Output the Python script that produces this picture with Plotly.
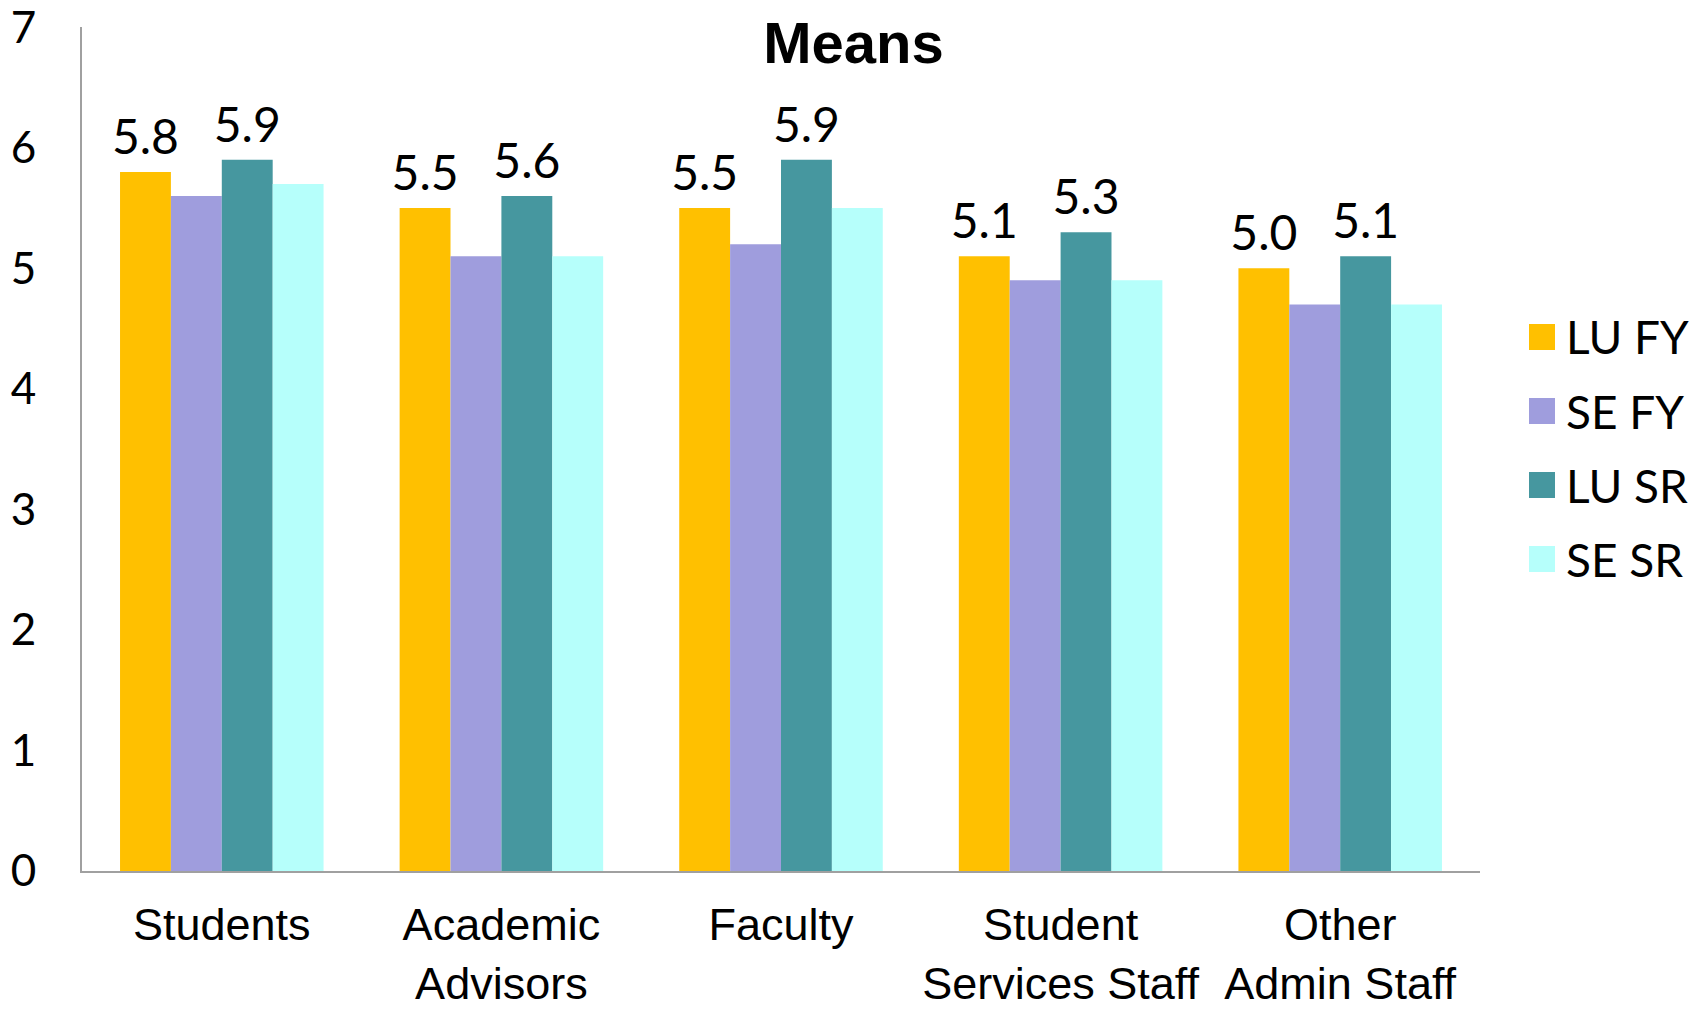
import plotly.graph_objects as go

categories = ["Students", "Academic<br>Advisors", "Faculty", "Student<br>Services Staff", "Other<br>Admin Staff"]
series_names = ["LU FY", "SE FY", "LU SR", "SE SR"]
lu_fy = [5.8, 5.5, 5.5, 5.1, 5.0]
se_fy = [5.6, 5.1, 5.2, 4.9, 4.7]
lu_sr = [5.9, 5.6, 5.9, 5.3, 5.1]
se_sr = [5.7, 5.1, 5.5, 4.9, 4.7]
series_values = [lu_fy, se_fy, lu_sr, se_sr]
show_labels = [True, False, True, False]
colors = ["#FFC000", "#9F9DDD", "#46979F", "#B6FFFB"]
y_ticks = [0, 1, 2, 3, 4, 5, 6, 7]

LABEL_FONT = "Lato, 'Open Sans', sans-serif"
CAT_FONT = "'Liberation Sans', Arial, sans-serif"

W, H = 1707, 1013
ML, MR, MT, MB = 82, 227, 27, 142
PW, PH = W - ML - MR, H - MT - MB
GAP = 0.272

fig = go.Figure()
for i, (name, vals, col) in enumerate(zip(series_names, series_values, colors)):
    fig.add_trace(go.Bar(
        x=categories, y=vals, name=name, offsetgroup=str(i),
        marker=dict(color=col, line=dict(width=0)),
        showlegend=False,
    ))
# value labels, grouped the same way as the bars
for i, (name, vals, lab) in enumerate(zip(series_names, series_values, show_labels)):
    fig.add_trace(go.Scatter(
        x=categories, y=vals, name=name + " labels", offsetgroup=str(i),
        mode="markers+text",
        marker=dict(size=8, opacity=0),
        text=[f"{v:.1f}" for v in vals] if lab else ["" for v in vals],
        textposition="top center",
        textfont=dict(family=LABEL_FONT, size=48, color="black"),
        cliponaxis=False, hoverinfo="skip", showlegend=False,
    ))

# manual legend (larger squares like the reference)
leg_y = [337, 411, 485, 559]
for name, col, yy in zip(series_names, colors, leg_y):
    fig.add_shape(type="rect", xref="paper", yref="paper",
                  x0=(1529 - ML) / PW, x1=(1555 - ML) / PW,
                  y0=(H - yy - 13 - MB) / PH, y1=(H - yy + 13 - MB) / PH,
                  fillcolor=col, line=dict(width=0))
    fig.add_annotation(xref="paper", yref="paper",
                       x=(1564 - ML) / PW, y=(H - yy - MB) / PH,
                       text=name, showarrow=False, xanchor="left", yanchor="middle",
                       font=dict(family=LABEL_FONT, size=46, color="black"))

fig.update_layout(
    width=W, height=H,
    margin=dict(l=ML, r=MR, t=MT, b=MB, autoexpand=False),
    barmode="group", bargap=GAP, bargroupgap=0,
    scattermode="group", scattergap=GAP,
    plot_bgcolor="white", paper_bgcolor="white",
    title=dict(text="<b>Means</b>", x=0.5, xref="container", xanchor="center",
               y=1 - 43 / H, yanchor="middle",
               font=dict(family=CAT_FONT, size=58, color="black")),
    showlegend=False,
)
fig.update_yaxes(range=[0, 7.002], tickvals=y_ticks, showgrid=False, zeroline=False,
                 showline=True, linecolor="#A0A0A0", linewidth=2, automargin=False,
                 ticks="", ticklabelstandoff=35, ticklabeloverflow="allow",
                 tickfont=dict(family=LABEL_FONT, size=44, color="black"))
fig.update_xaxes(showgrid=False, showline=True, linecolor="#A0A0A0", linewidth=2,
                 automargin=False, ticks="", ticklabelstandoff=13,
                 tickfont=dict(family=CAT_FONT, size=45, color="black"))

fig.write_html("out.html")
